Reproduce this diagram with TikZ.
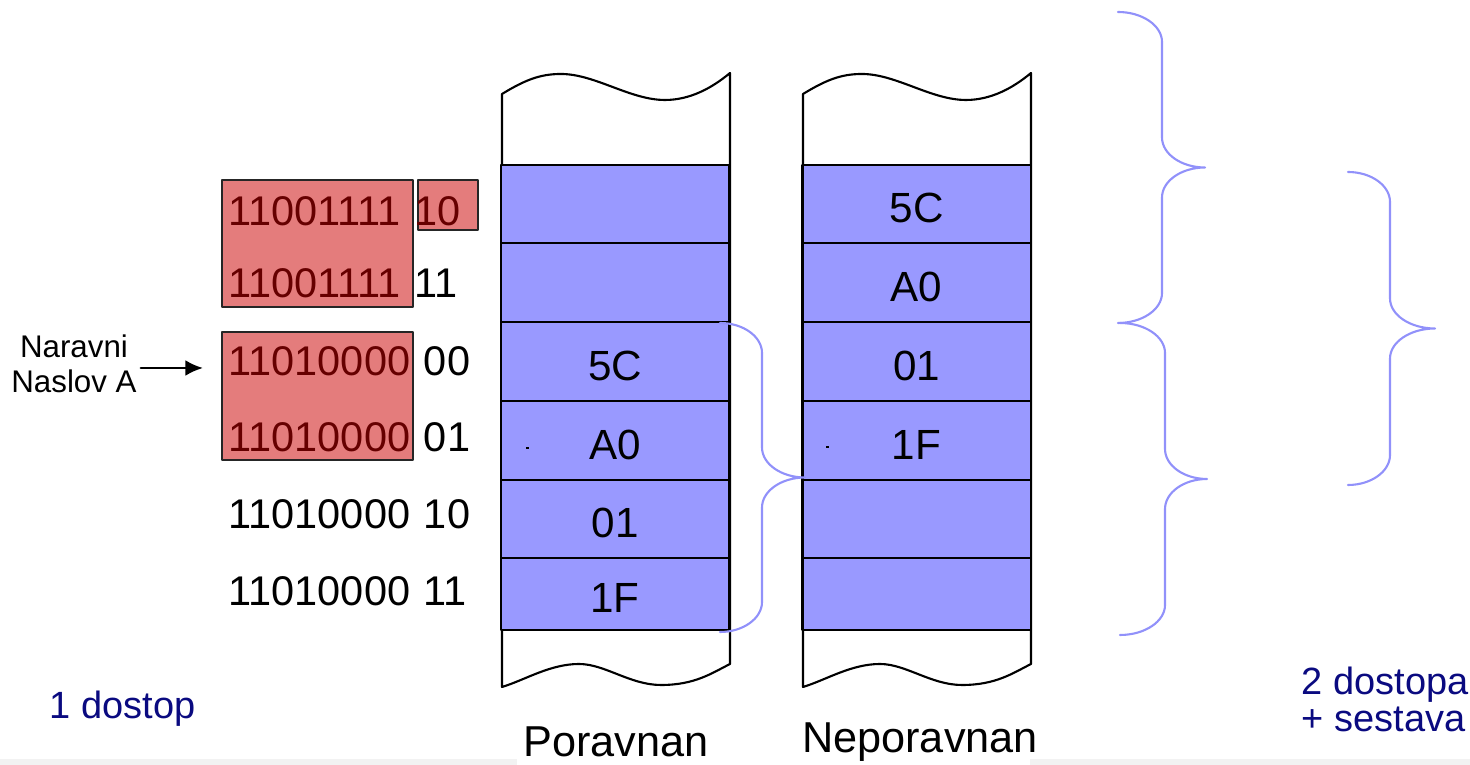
\documentclass[tikz,border=0pt]{standalone}
\usepackage{fontspec}
\setmainfont{Liberation Sans}
\usetikzlibrary{arrows.meta,positioning}

\definecolor{modra}{RGB}{153,153,255}
\definecolor{zavitmodra}{RGB}{145,145,250}
\definecolor{rdeca}{RGB}{228,124,124}
\definecolor{temnordeca}{RGB}{102,0,0}
\definecolor{mornarska}{RGB}{10,10,128}
\definecolor{siva}{RGB}{242,242,242}

% zavit oklepaj: x0, y0, y1, x stebla, x konice
\newcommand{\zavit}[5]{%
  \draw[zavita] (#1,#2)
    .. controls ({#1+0.55*(#4-#1)},#2) and (#4,{#2+13.5}) .. (#4,{#2+30})
    -- (#4,{(#2+#3)/2-30})
    .. controls (#4,{(#2+#3)/2-13.5}) and ({#5-0.55*(#5-#4)},{(#2+#3)/2}) .. (#5,{(#2+#3)/2})
    .. controls ({#5-0.55*(#5-#4)},{(#2+#3)/2}) and (#4,{(#2+#3)/2+13.5}) .. (#4,{(#2+#3)/2+30})
    -- (#4,{#3-30})
    .. controls (#4,{#3-13.5}) and ({#1+0.55*(#4-#1)},#3) .. (#1,#3);
}

\begin{document}
\begin{tikzpicture}[x=0.01cm, y=-0.01cm, line join=round, line cap=round]
    % Stili
    \tikzset{
      celica/.style={draw=black, line width=0.6pt, fill=modra, minimum width=2.28cm,
        inner sep=0pt, text height=10.8pt, text depth=0pt, font=\fontsize{12}{14}\selectfont},
      okvir/.style={draw=black!85, line width=0.5pt, fill=rdeca},
      adresa/.style={inner sep=0pt, font=\fontsize{11.8}{14}\selectfont},
      zavita/.style={draw=zavitmodra, line width=0.6pt},
      oznaka/.style={inner sep=0pt, font=\fontsize{12.3}{14}\selectfont},
      opomba/.style={inner sep=0pt, text=mornarska, font=\fontsize{10.8}{13}\selectfont}
    }
    \useasboundingbox (0,0) rectangle (1470,765);

    % Siv pas spodaj
    \fill[siva] (0,759) rectangle (517,765);
    \fill[siva] (1030,759) rectangle (1470,765);

    % Pomnilniska stolpca z valovitimi robovi
    \foreach \x in {0,301} {
      \begin{scope}[shift={(\x,0)}]
        \draw[line width=0.6pt, fill=white] (502,94)
          .. controls (525,80) and (540,74) .. (561,74)
          .. controls (595,74) and (630,100) .. (665,100)
          .. controls (690,100) and (712,88) .. (730,73)
          -- (730,664)
          .. controls (712,673) and (695,685) .. (661,685)
          .. controls (630,685) and (605,664) .. (579,664)
          .. controls (550,664) and (525,680) .. (502,687) -- cycle;
      \end{scope}
    }

    % Poravnan
    \foreach \i/\a/\b/\t in {1/165/243/{}, 2/243/322/{}, 3/322/401/5C, 4/401/480/A0, 5/480/558/01, 6/558/630/1F} {
      \pgfmathsetmacro\vis{(\b-\a)*0.01}
      \node[celica, minimum height=\vis cm] (P\i) at (615,{(\a+\b)/2}) {\t};
    }
    % Neporavnan
    \foreach \i/\a/\b/\t in {1/165/243/5C, 2/243/322/A0, 3/322/401/01, 4/401/480/1F, 5/480/558/{}, 6/558/630/{}} {
      \pgfmathsetmacro\vis{(\b-\a)*0.01}
      \node[celica, minimum height=\vis cm] (N\i) at (916.5,{(\a+\b)/2}) {\t};
    }
    \fill (526,447) rectangle (529,449);
    \fill (826,446) rectangle (829,448);

    % Naslovi
    \draw[okvir] (222,180) rectangle (413,307);
    \draw[okvir] (418,180) rectangle (478,230);
    \draw[okvir] (222,332) rectangle (413,460);
    \foreach \i/\y/\pre/\suf/\bp/\bs in {1/226/11001111/10/temnordeca/temnordeca,
        2/298/11001111/11/temnordeca/black, 3/376/11010000/00/temnordeca/black,
        4/452/11010000/01/temnordeca/black, 5/529/11010000/10/black/black,
        6/606/11010000/11/black/black} {
      \node[adresa, text=\bp, anchor=base west] (a\i) at (228,\y) {\pre};
      \node[adresa, text=\bs, right=3.5pt of a\i.base east, anchor=base west] (b\i) {\suf};
    }

    \node[align=center, inner sep=1pt, font=\fontsize{8.9}{10}\selectfont] (naslov) at (74,364) {Naravni\\Naslov A};
    \coordinate (pusica) at (203,368);
    \draw[-{Latex[length=5pt,width=4.5pt]}, line width=0.7pt] (naslov.east |- pusica) -- (pusica);

    % Oklepaji
    \zavit{720}{323}{632}{762}{805}
    \zavit{1118}{12}{323}{1162}{1205}
    \zavit{1120}{323}{635}{1165}{1207}
    \zavit{1348}{172}{485}{1390}{1435}

    % Oznake
    \node[oznaka, anchor=base] (poravnan) at (616,757) {Poravnan};
    \node[oznaka, anchor=base] (neporavnan) at (920,753) {Neporavnan};
    \node[opomba, anchor=base west] (dostop1) at (49,719) {1 dostop};
    \node[opomba, anchor=base west] (dostop2) at (1301,695) {2 dostopa};
    \node[opomba, below=10.5pt of dostop2.base west, anchor=base west] (sestava) {+ sestava};
\end{tikzpicture}
\end{document}
